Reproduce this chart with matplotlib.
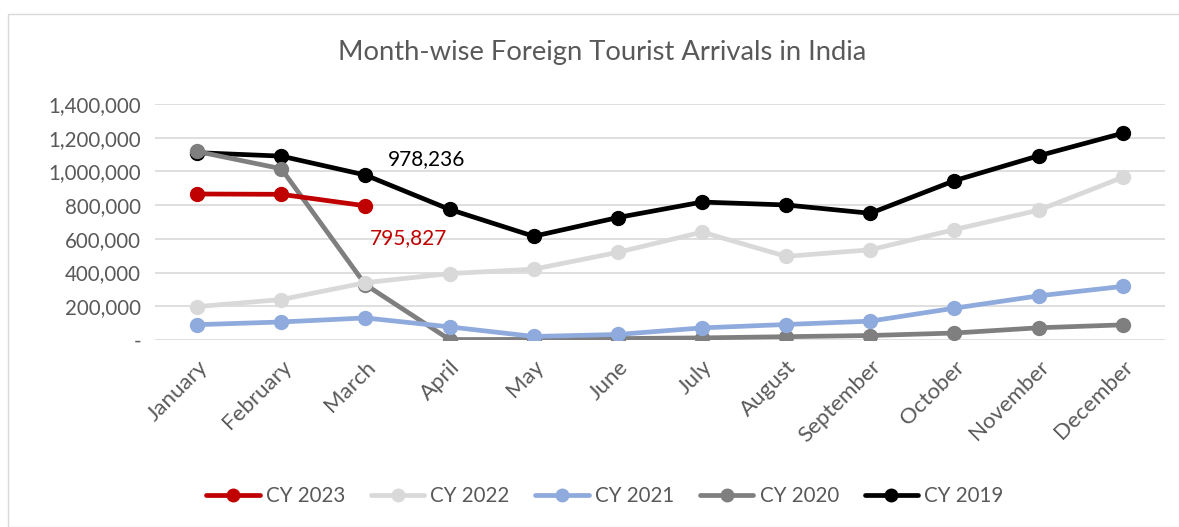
import numpy as np
import matplotlib.pyplot as plt
from matplotlib.patches import Rectangle

plt.rcParams['font.family'] = ['Lato', 'DejaVu Sans']

months = ['January', 'February', 'March', 'April', 'May', 'June', 'July',
          'August', 'September', 'October', 'November', 'December']

cy2023 = [866000, 864000, 795827]
cy2022 = [198000, 240000, 340000, 394000, 420000, 520000, 640000, 496000,
          535000, 655000, 770000, 965000]
cy2021 = [91000, 107000, 131000, 78000, 21000, 33000, 72000, 92000,
          112000, 189000, 262000, 318000]
cy2020 = [1118150, 1015632, 328304, 2820, 3764, 8590, 12655, 19761,
          26783, 41494, 72474, 90000]
cy2019 = [1111040, 1090516, 978236, 774651, 615136, 726446, 818125, 800837,
          751513, 945017, 1092440, 1226398]

yticks = [0, 200000, 400000, 600000, 800000, 1000000, 1200000, 1400000]

series = [
    ('CY 2023', cy2023, '#c00000'),
    ('CY 2022', cy2022, '#d9d9d9'),
    ('CY 2021', cy2021, '#8faadc'),
    ('CY 2020', cy2020, '#7f7f7f'),
    ('CY 2019', cy2019, '#000000'),
]

txt = '#595959'

fig = plt.figure(figsize=(11.79, 5.27), dpi=100)
ax = fig.add_axes([0.1315, 0.3548, 0.8565, 0.448])

# chart border
fig.patches.append(Rectangle((8 / 1179, 0), 1.2, 1 - 14 / 527, transform=fig.transFigure,
                             fill=False, edgecolor='#d9d9d9', linewidth=1))

x = np.arange(len(months))
# draw in reverse so 2023 is on top
for name, vals, col in series[::-1]:
    ax.plot(x[:len(vals)], vals, color=col, lw=3.4, marker='o', ms=10,
            label=name, solid_capstyle='round', zorder=3)

ax.set_xlim(-0.5, 11.5)
ax.set_ylim(0, 1400000)
ax.set_yticks(yticks)
ax.set_yticklabels(['-' if v == 0 else f'{v:,}' for v in yticks])
ax.set_xticks(x)
ax.set_xticklabels(months, rotation=45, ha='right', rotation_mode='anchor')
ax.tick_params(axis='y', length=0, colors=txt, labelsize=14.8, pad=10)
ax.tick_params(axis='x', length=0, colors=txt, labelsize=16, pad=12)
ax.grid(axis='y', color='#d9d9d9', lw=1.2)
ax.set_axisbelow(True)
for s in ax.spines.values():
    s.set_visible(False)

# data labels
ax.text(2.27, 978236 + 95000, '978,236', color='black', fontsize=15, va='center')
ax.text(2.05, 795827 - 190000, '795,827', color='#c00000', fontsize=15, va='center')

fig.text(0.511, 0.9, 'Month-wise Foreign Tourist Arrivals in India', ha='center',
         va='center', fontsize=19.7, color=txt)

h, l = ax.get_legend_handles_labels()
leg = fig.legend(h[::-1], l[::-1], loc='center', bbox_to_anchor=(0.513, 0.058), ncol=5,
                 frameon=False, fontsize=14.8, handlelength=2.6, handletextpad=0.3,
                 columnspacing=1.25, markerscale=0.9)
for t in leg.get_texts():
    t.set_color(txt)

fig.savefig('out.png', dpi=100)
